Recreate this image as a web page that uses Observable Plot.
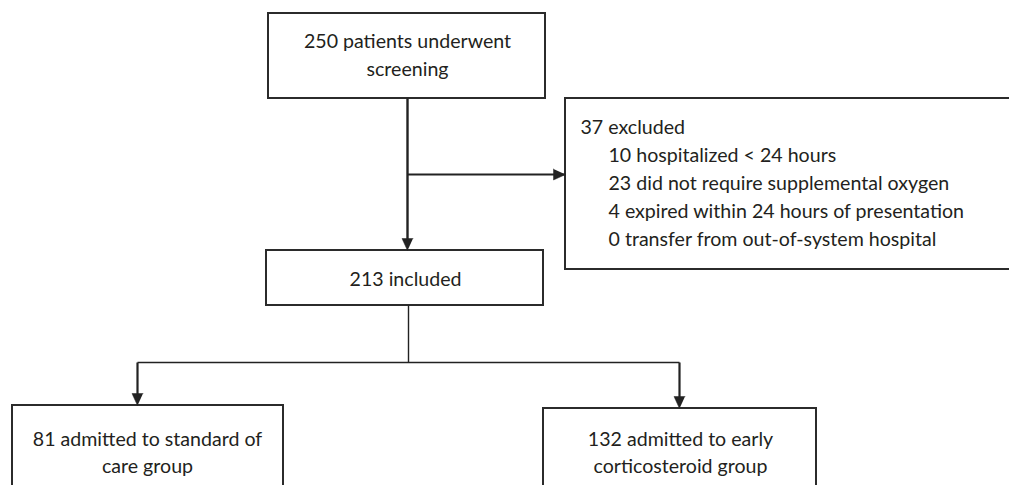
<!DOCTYPE html>
<html>
<head>
<meta charset="utf-8">
<script src="https://cdn.jsdelivr.net/npm/d3@7"></script>
<script src="https://cdn.jsdelivr.net/npm/@observablehq/plot@0.6"></script>
<style>
  html, body { margin: 0; padding: 0; background: #fff; }
  #chart svg { display: block; }
</style>
</head>
<body>
<div id="chart"></div>
<script>
// ---- Data: flow-chart counts and labels ----
const screened = 250;
const excluded = 37;
const included = 213;
const standardCare = 81;
const earlyCorticosteroid = 132;

const exclusionCounts = [10, 23, 4, 0];
const exclusionReasons = [
  "hospitalized < 24 hours",
  "did not require supplemental oxygen",
  "expired within 24 hours of presentation",
  "transfer from out-of-system hospital"
];

// ---- Layout (pixel coordinates of the flow-chart frame) ----
const W = 1009, H = 485;
const boxes = [
  {id: "screen",  x1: 268, x2: 545,  y1: 13,  y2: 98},
  {id: "exclude", x1: 565, x2: 1015, y1: 98,  y2: 269},
  {id: "include", x1: 266, x2: 543,  y1: 250, y2: 305},
  {id: "soc",     x1: 12,  x2: 283,  y1: 405, y2: 495},
  {id: "early",   x1: 543, x2: 816,  y1: 408, y2: 495}
];

const connectors = [
  {x1: 407, y1: 98,  x2: 407, y2: 250, w: 2.4, head: true},
  {x1: 407, y1: 174, x2: 565, y2: 174, w: 2.2, head: true},
  {x1: 408, y1: 305, x2: 408, y2: 362, w: 1.4, head: false},
  {x1: 137, y1: 362, x2: 679, y2: 362, w: 1.4, head: false},
  {x1: 137, y1: 362, x2: 137, y2: 405, w: 2.2, head: true},
  {x1: 679, y1: 362, x2: 679, y2: 408, w: 2.2, head: true}
];

// arrowhead polygons derived from connector ends
const headLen = 12, headHalf = 5.5;
const heads = [];
connectors.filter(c => c.head).forEach((c, i) => {
  const dx = c.x2 - c.x1, dy = c.y2 - c.y1;
  const L = Math.hypot(dx, dy), ux = dx / L, uy = dy / L;
  const bx = c.x2 - ux * headLen, by = c.y2 - uy * headLen;
  heads.push({k: i, x: c.x2, y: c.y2});
  heads.push({k: i, x: bx - uy * headHalf, y: by + ux * headHalf});
  heads.push({k: i, x: bx + uy * headHalf, y: by - ux * headHalf});
});

const fs = 19.6;
const mid = 0.32 * fs; // baseline offset for lineAnchor middle
const texts = [
  {x: 407, b: 47,  t: `${screened} patients underwent`, a: "middle"},
  {x: 407, b: 75,  t: "screening", a: "middle"},
  {x: 405, b: 285, t: `${included} included`, a: "middle"},
  {x: 147, b: 445, t: `${standardCare} admitted to standard of`, a: "middle"},
  {x: 147, b: 472, t: "care group", a: "middle"},
  {x: 680, b: 445, t: `${earlyCorticosteroid} admitted to early`, a: "middle"},
  {x: 680, b: 472, t: "corticosteroid group", a: "middle"},
  {x: 580, b: 133, t: `${excluded} excluded`, a: "start"},
  ...exclusionReasons.map((r, i) => ({x: 608, b: 161 + 28 * i, t: `${exclusionCounts[i]} ${r}`, a: "start"}))
];

const ink = "#231f20";

const chart = Plot.plot({
  width: W,
  height: H,
  margin: 0,
  style: {background: "#fff", fontFamily: "Lato, 'Open Sans', sans-serif"},
  x: {domain: [0, W], range: [0, W], axis: null},
  y: {domain: [0, H], range: [0, H], axis: null},
  marks: [
    Plot.rect(boxes, {x1: "x1", x2: "x2", y1: "y1", y2: "y2", fill: "#fff", stroke: "#2b2b2b", strokeWidth: 2}),
    Plot.link(connectors, {x1: "x1", y1: "y1", x2: "x2", y2: d => d.head ? d.y2 - (d.y2 === d.y1 ? 0 : 4) : d.y2,
      stroke: "#222", strokeWidth: "w"}),
    Plot.line(heads, {x: "x", y: "y", z: "k", fill: "#222", stroke: "#222", strokeWidth: 0.5}),
    Plot.text(texts.filter(d => d.a === "middle"), {x: "x", y: d => d.b - mid, text: "t", textAnchor: "middle", lineAnchor: "middle", fontSize: fs, fill: ink}),
    Plot.text(texts.filter(d => d.a === "start"), {x: "x", y: d => d.b - mid, text: "t", textAnchor: "start", lineAnchor: "middle", fontSize: fs, fill: ink})
  ]
});
document.getElementById("chart").appendChild(chart);
</script>
</body>
</html>
